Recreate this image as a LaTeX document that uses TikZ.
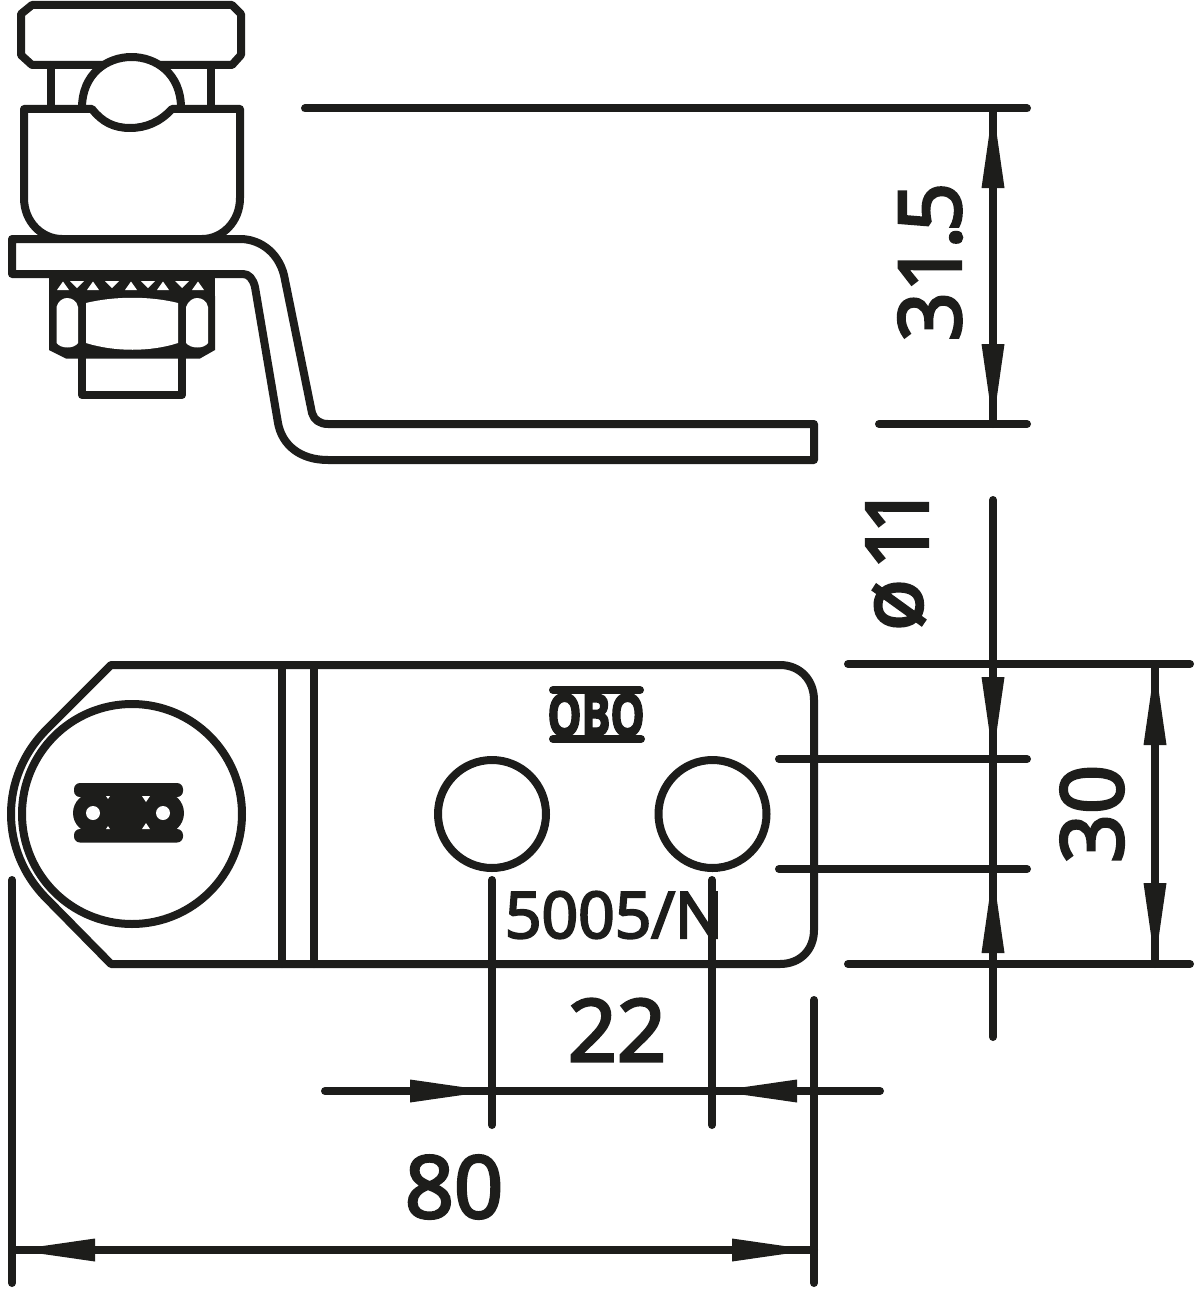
\documentclass[tikz,border=0pt]{standalone}
\usepackage{fontspec}
\setmainfont[FakeBold=3.5]{Open Sans}
\definecolor{ink}{HTML}{1D1D1B}
\newcommand{\fsz}[1]{\fontsize{#1}{#1}\selectfont}
\newcommand{\vtip}[3]{\fill[ink] (#1-11.5,#2) -- (#1,#3) -- (#1+11.5,#2) -- cycle;}
\newcommand{\htip}[3]{\fill[ink] (#2,#1-11.5) -- (#3,#1) -- (#2,#1+11.5) -- cycle;}
\tikzset{
  part/.style={draw=ink,line width=8pt,line cap=round,line join=round},
  dimline/.style={draw=ink,line width=8pt,line cap=round},
  dimtext/.style={text=ink,inner sep=0pt,font=\fsz{86}},
}
\begin{document}
\begin{tikzpicture}[x=1pt,y=-1pt]
\useasboundingbox (0,0) rectangle (1201,1295);
\fill[white] (0,0) rectangle (1201,1295);
% ---------- side view
\draw[part] (32,5) -- (232,5) -- (241,14) -- (241,55) -- (232,65) -- (32,65) -- (21,55) -- (21,14) -- cycle;
\draw[part] (51,65) -- (51,108) (211,65) -- (211,108);
\draw[part,fill=white] (82,108) .. controls (82,40) and (181,40) .. (181,108);
\draw[part,fill=white] (24,109) -- (24,198) .. controls (24,222) and (42,239) .. (62,239) -- (202,239)
  .. controls (222,239) and (240,222) .. (240,198) -- (240,109) -- (172,109)
  .. controls (160,122) and (146,128) .. (130,128) .. controls (114,128) and (102,122) .. (92,109) -- cycle;
% washer
\fill[ink] (49,274) rectangle (215,299);
\foreach \a in {63,93,131,163,198} {\fill[white] (\a-6,290) -- (\a,281.5) -- (\a+6,290) -- cycle;}
\foreach \a in {77,112,148,182} {\fill[white] (\a-7,281) -- (\a,288) -- (\a+7,281) -- cycle;}
% nut
\fill[ink] (49,296) -- (215,296) -- (215,350) -- (200,358.5) -- (66,358.5) -- (49,350) -- cycle;
\fill[white] (56.5,307) .. controls (58,301) and (63,298) .. (67,298) .. controls (72,298) and (77,301) .. (78,307) -- (78,343) .. controls (74,349) and (61,349) .. (56.5,343) -- cycle;
\fill[white] (86,303) .. controls (115,296) and (150,296) .. (178,303) -- (178,343) .. controls (150,352) and (115,352) .. (86,343) -- cycle;
\fill[white] (186,307) .. controls (188,301) and (193,298) .. (197,298) .. controls (202,298) and (207,301) .. (208,307) -- (208,343) .. controls (204,349) and (191,349) .. (186,343) -- cycle;
\draw[part] (82,355) -- (82,395) -- (182,395) -- (182,355);
% bent plate
\draw[part,fill=white] (12,239) -- (240,239) .. controls (262,239) and (281,255) .. (285,280) -- (312,413)
  .. controls (314,420) and (320,424) .. (328,424) -- (814,424) -- (814,460) -- (328,460)
  .. controls (300,460) and (282,445) .. (278,423) -- (255,287) .. controls (253,279) and (249,274) .. (243,274) -- (12,274) -- cycle;
% ---------- front view
\draw[part] (111,665) -- (780,665) .. controls (800,665) and (814,680) .. (814,700) -- (814,930)
  .. controls (814,950) and (800,964) .. (780,964) -- (111,964) -- (47,899)
  .. controls (-1,851) and (-1,777) .. (47,729) -- cycle;
\draw[part] (281.5,665) -- (281.5,964) (314,665) -- (314,964);
\draw[part] (132,814) circle[radius=110pt];
\draw[part] (492,814) circle[radius=54pt];
\draw[part] (712.5,814) circle[radius=54pt];
% slot
\fill[ink,rounded corners=6pt] (74,783) rectangle (183,797);
\fill[ink,rounded corners=6pt] (74,829) rectangle (183,842.5);
\fill[ink] (93,813) circle[radius=20pt] (163,813) circle[radius=21pt];
\fill[ink] (93,795) rectangle (163,831);
\fill[white] (93,813) circle[radius=7pt] (163,813) circle[radius=7pt];
\fill[white] (106,796) -- (110,796) -- (108,799) -- cycle (142,796) -- (150,796) -- (146,802) -- cycle;
\fill[white] (106,829) -- (110,829) -- (108,826) -- cycle (142,829) -- (150,829) -- (146,823) -- cycle;
% marking
\draw[dimline] (553,690) -- (640,690) (553,739) -- (641,739);
\node[text=ink,inner sep=0pt,font=\fsz{58}\bfseries,xscale=0.74] (obo) at (596,715) {OBO};
\node[text=ink,inner sep=0pt,font=\fsz{64}] (code) at (614,915) {5005/N};
% ---------- dimensions
\draw[dimline] (305,108.5) -- (1027,108.5) (879,424) -- (1027,424) (993,108.5) -- (993,424);
\vtip{993}{188}{108}\vtip{993}{344}{424}
\node[dimtext,rotate=90] (h) at (930,262) {31\kern-6pt.\kern-6pt5};
\draw[dimline] (993,500) -- (993,1037) (848,664) -- (1190,664) (848,964) -- (1190,964)
  (779,759) -- (1027,759) (779,869) -- (1027,869);
\vtip{993}{677}{757}\vtip{993}{953}{873}
\node[dimtext,rotate=90] (d1) at (899,605) {ø};
\node[dimtext,rotate=90] (d2) at (897,527) {1\kern-13pt1};
\draw[dimline] (1155,664) -- (1155,964);
\vtip{1155}{745}{665}\vtip{1155}{883}{963}
\node[dimtext,rotate=90] (w) at (1092,814) {30};
\draw[dimline] (325,1091) -- (880,1091) (492,880) -- (492,1125) (712,880) -- (712,1125);
\htip{1091}{410}{490}\htip{1091}{797}{717}
\node[dimtext] (p) at (617,1030) {22};
\draw[dimline] (12,880) -- (12,1283) (814,1000) -- (814,1283) (12,1250) -- (814,1250);
\htip{1250}{95}{15}\htip{1250}{732}{812}
\node[dimtext] (l) at (454,1187) {80};
\end{tikzpicture}
\end{document}
